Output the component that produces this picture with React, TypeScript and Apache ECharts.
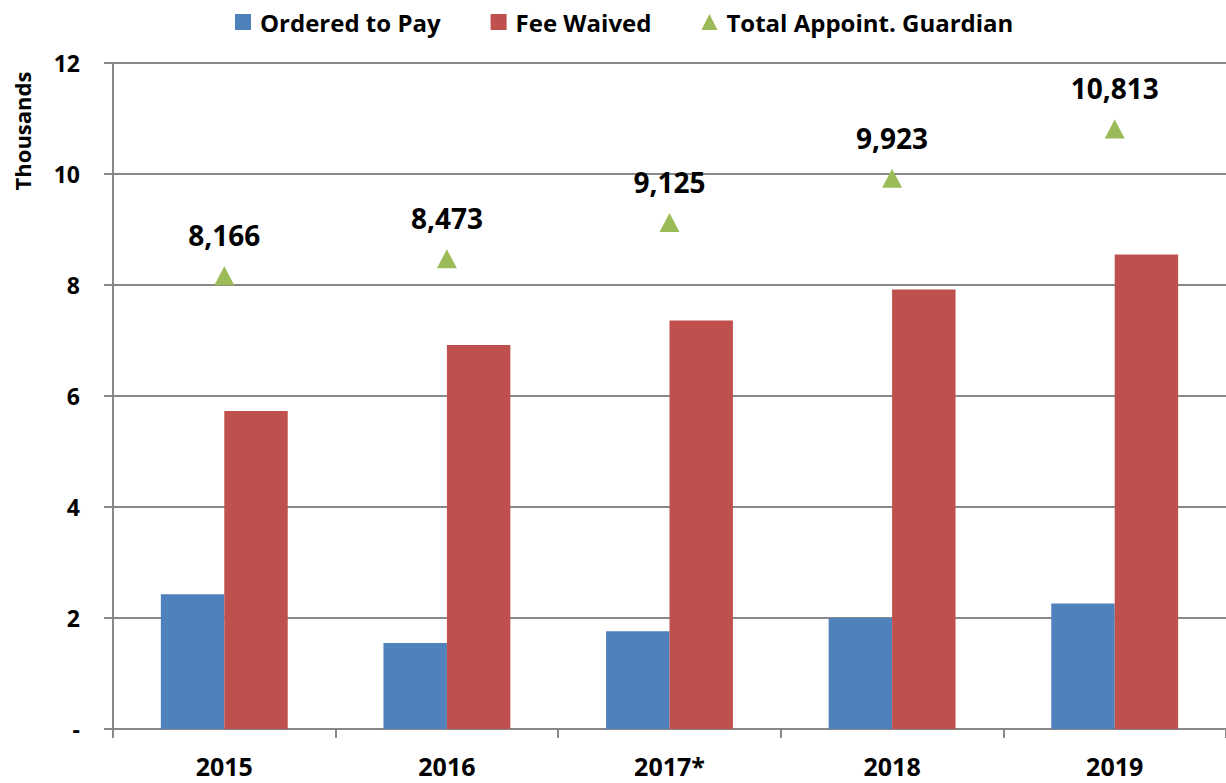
import React, { useEffect, useRef } from "react";
import * as echarts from "echarts";

const categories = ["2015", "2016", "2017*", "2018", "2019"];
const orderedToPay = [2.43, 1.55, 1.76, 2.0, 2.26];
const feeWaived = [5.73, 6.92, 7.36, 7.92, 8.55];
const totalAppointed = [8.166, 8.473, 9.125, 9.923, 10.813];
const yTicks = [0, 2, 4, 6, 8, 10, 12];

const FONT = "Open Sans";

export default function App() {
  const ref = useRef<HTMLDivElement>(null);
  useEffect(() => {
    if (!ref.current) return;
    const chart = echarts.init(ref.current, null, { renderer: "svg" });
    chart.setOption({
      animation: false,
      textStyle: { fontFamily: FONT },
      legend: {
        top: 5,
        left: 230,
        itemWidth: 16,
        itemHeight: 16,
        itemGap: 50,
        textStyle: { fontFamily: FONT, fontWeight: "bold", fontSize: 24, color: "#000", padding: [0, 0, 0, 4] },
        data: [
          { name: "Ordered to Pay", icon: "rect" },
          { name: "Fee Waived", icon: "rect" },
          { name: "Total Appoint. Guardian", icon: "triangle" },
        ],
      },
      grid: { left: 113, right: 0, top: 63, bottom: 54 },
      graphic: [
        {
          type: "text",
          x: 22,
          y: 131,
          rotation: Math.PI / 2,
          style: {
            text: "Thousands",
            font: `bold 22px '${FONT}'`,
            fill: "#000",
            align: "center",
            verticalAlign: "middle",
          },
        },
      ],
      xAxis: {
        type: "category",
        data: categories,
        axisLine: { show: true, lineStyle: { color: "#888", width: 2 } },
        axisTick: { show: true, length: 9, lineStyle: { color: "#888", width: 2 } },
        axisLabel: { color: "#000", fontWeight: "bold", fontSize: 25, fontFamily: FONT, margin: 24 },
      },
      yAxis: {
        type: "value",
        min: yTicks[0],
        max: yTicks[yTicks.length - 1],
        interval: 2,
        axisLine: { show: true, lineStyle: { color: "#888", width: 2 } },
        axisTick: { show: true, length: 9, lineStyle: { color: "#888", width: 2 } },
        splitLine: { show: true, lineStyle: { color: "#888", width: 2 } },
        axisLabel: {
          color: "#000",
          fontWeight: "bold",
          fontSize: 23,
          fontFamily: FONT,
          margin: 33,
          formatter: (v: number) => (v === 0 ? "-" : String(v)),
        },
      },
      series: [
        {
          name: "Ordered to Pay",
          type: "bar",
          data: orderedToPay,
          itemStyle: { color: "#4F81BD" },
          barGap: "0%",
          barCategoryGap: "43%",
        },
        {
          name: "Fee Waived",
          type: "bar",
          data: feeWaived,
          itemStyle: { color: "#C0504D" },
          barGap: "0%",
          barCategoryGap: "43%",
        },
        {
          name: "Total Appoint. Guardian",
          type: "line",
          data: totalAppointed,
          symbol: "triangle",
          symbolSize: [20, 19],
          itemStyle: { color: "#9BBB59" },
          lineStyle: { opacity: 0 },
          z: 5,
          label: {
            show: true,
            position: "top",
            distance: 17,
            color: "#000",
            fontWeight: "bold",
            fontSize: 28,
            fontFamily: FONT,
            formatter: (p: any) => Math.round(p.value * 1000).toLocaleString("en-US"),
          },
        },
      ],
    });
    return () => chart.dispose();
  }, []);
  return (
    <div
      ref={ref}
      style={{ position: "absolute", left: 0, top: 0, width: 1226, height: 783, background: "#fff" }}
    />
  );
}
